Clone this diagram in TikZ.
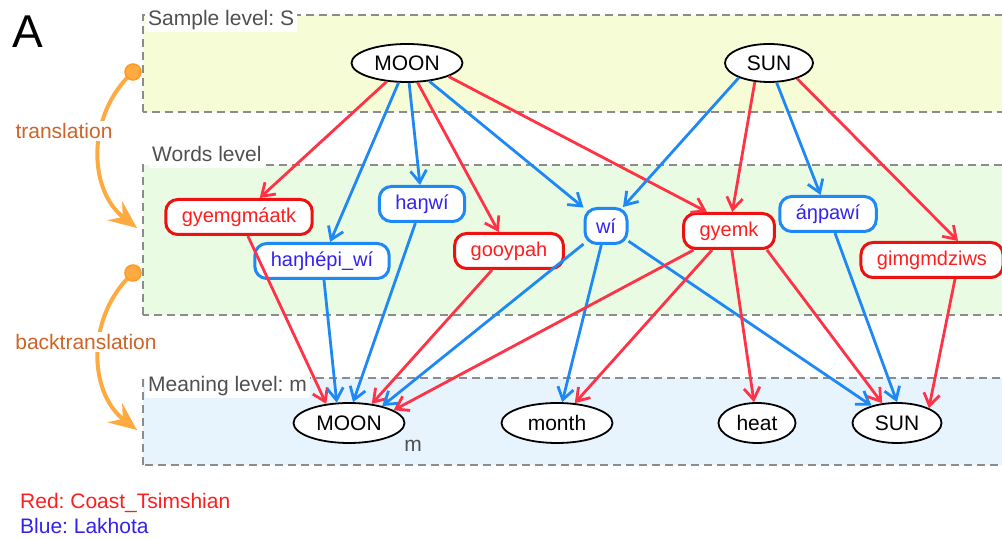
\documentclass[tikz,border=0pt]{standalone}
\usepackage{fontspec}
\setmainfont{Liberation Sans}
\usetikzlibrary{arrows.meta,shapes.geometric}
\frenchspacing

\definecolor{redline}{HTML}{FF3246}
\definecolor{blueline}{HTML}{1E88F5}
\definecolor{redbox}{HTML}{EE1111}
\definecolor{redtext}{HTML}{FF1E1E}
\definecolor{bluetext}{HTML}{3322EE}
\definecolor{samplefill}{HTML}{F6FCD5}
\definecolor{wordsfill}{HTML}{EAFBE4}
\definecolor{meaningfill}{HTML}{E8F4FD}
\definecolor{dashgray}{HTML}{8C8C8C}
\definecolor{labelgray}{HTML}{505050}
\definecolor{arcorange}{HTML}{FFAA40}
\definecolor{arcring}{HTML}{FF9A20}
\definecolor{arctext}{HTML}{CD6428}

\begin{document}
\begin{tikzpicture}[x=1pt,y=1pt,
  band/.style={draw=dashgray,line width=1.6pt,dash pattern=on 8pt off 5pt},
  level label/.style={fill=white,anchor=base west,text=labelgray,inner xsep=3pt,inner ysep=1.5pt,
    text height=15pt,text depth=5pt,font=\fontsize{21}{25}\selectfont},
  sense node/.style={ellipse,draw=black,line width=1.8pt,fill=white,inner sep=0pt,
    minimum height=38pt,font=\fontsize{21}{25}\selectfont},
  word node/.style={rectangle,rounded corners=12pt,line width=3pt,fill=white,
    minimum height=35pt,inner xsep=16pt,font=\fontsize{20}{24}\selectfont},
  red word/.style={word node,draw=redbox,text=redtext},
  blue word/.style={word node,draw=blueline,text=bluetext},
  red edge/.style={draw=redline,line width=2.8pt,-{Straight Barb[length=12pt,width=16pt]}},
  blue edge/.style={draw=blueline,line width=2.8pt,-{Straight Barb[length=12pt,width=16pt]}},
  arc/.style={draw=arcorange,line width=4pt,-{Stealth[length=28pt,width=24pt,inset=10pt]}},
  arc dot/.style={circle,fill=arcorange,draw=arcring,line width=1.5pt,minimum size=16pt,inner sep=0pt},
  arc label/.style={fill=white,text=arctext,inner sep=2pt,font=\fontsize{21}{25}\selectfont},
  plain text/.style={anchor=base west,inner sep=0pt,font=\fontsize{21}{25}\selectfont}]

  \useasboundingbox (0,0) rectangle (1002,540);

  % levels
  \filldraw[band,fill=samplefill] (143,428) rectangle (1010,525);
  \filldraw[band,fill=wordsfill] (143,225) rectangle (1010,375);
  \filldraw[band,fill=meaningfill] (143,75) rectangle (1010,162);
  \node[level label] (samplelabel) at (145,514) {Sample level: S};
  \node[level label] (wordslabel) at (149,378) {Words level};
  \node[level label] (meaninglabel) at (145,148) {Meaning level: m};

  \node[font=\fontsize{46}{50}\selectfont] (panel) at (28,508) {A};

  % sample level
  \node[sense node,minimum width=111pt] (moons) at (407,477) {MOON};
  \node[sense node,minimum width=88pt] (suns) at (769,477) {SUN};

  % words level
  \node[red word] (gyemgmaatk) at (239,323) {gyemgmáatk};
  \node[blue word] (hanhepiwi) at (322,279) {haŋhépi\_wí};
  \node[blue word] (hanwi) at (422,336) {haŋwí};
  \node[red word] (gooypah) at (509,289) {gooypah};
  \node[blue word,inner xsep=11pt] (wi) at (606,314) {wí};
  \node[red word] (gyemk) at (729,309) {gyemk};
  \node[blue word] (anpawi) at (828,326) {áŋpawí};
  \node[red word] (gimgmdziws) at (932,280) {gimgmdziws};

  % meaning level
  \node[sense node,minimum width=111pt,minimum height=40pt] (moonm) at (349,117) {MOON};
  \node[sense node,minimum width=111pt,minimum height=40pt] (month) at (557,117) {month};
  \node[sense node,minimum width=77pt,minimum height=40pt] (heat) at (757,117) {heat};
  \node[sense node,minimum width=89pt,minimum height=40pt] (sunm) at (897,117) {SUN};
  \node[text=labelgray,font=\fontsize{21}{25}\selectfont] (mmark) at (413,94) {m};

  % translation
  \path
    (moons) edge[red edge] (gyemgmaatk)
    (moons) edge[blue edge] (hanhepiwi)
    (moons) edge[blue edge] (hanwi)
    (moons) edge[red edge] (gooypah)
    (moons) edge[blue edge] (wi)
    (moons.-18) edge[red edge] ([xshift=-22pt]gyemk.north)
    (suns.206) edge[blue edge] (wi)
    (suns.233) edge[red edge] (gyemk)
    (suns) edge[blue edge] (anpawi)
    (suns.331) edge[red edge] ([xshift=26pt]gimgmdziws.north);

  % backtranslation
  \path
    (gyemgmaatk) edge[red edge] (moonm.140)
    (hanhepiwi) edge[blue edge] (moonm.121)
    (hanwi) edge[blue edge] (moonm.79)
    (gooypah) edge[red edge] (moonm.40)
    (wi) edge[blue edge] (moonm.27)
    (wi) edge[blue edge] (month)
    (wi) edge[blue edge] (sunm)
    (gyemk) edge[red edge] (moonm.16)
    (gyemk) edge[red edge] (month)
    (gyemk) edge[red edge] (heat)
    ([xshift=38pt]gyemk.south) edge[red edge] (sunm)
    (anpawi) edge[blue edge] (sunm.north)
    ([xshift=23pt]gimgmdziws.south) edge[red edge] (sunm.25);

  % arcs on the left
  \coordinate (tstart) at (133,468);
  \coordinate (ttip) at (137,312);
  \draw[arc] (tstart) .. controls (86,425) and (88,350) .. (ttip);
  \node[arc label] (tlabel) at (64,409) {translation};
  \node[arc dot] (tdot) at (tstart) {};
  \coordinate (bstart) at (133,267);
  \coordinate (btip) at (137,110);
  \draw[arc] (bstart) .. controls (86,224) and (88,148) .. (btip);
  \node[arc label] (blabel) at (86,198) {backtranslation};
  \node[arc dot] (bdot) at (bstart) {};

  % legend
  \node[plain text,text=redtext] (redkey) at (20,31) {Red: Coast\_Tsimshian};
  \node[plain text,text=bluetext] (bluekey) at (20,6) {Blue: Lakhota};
\end{tikzpicture}
\end{document}
